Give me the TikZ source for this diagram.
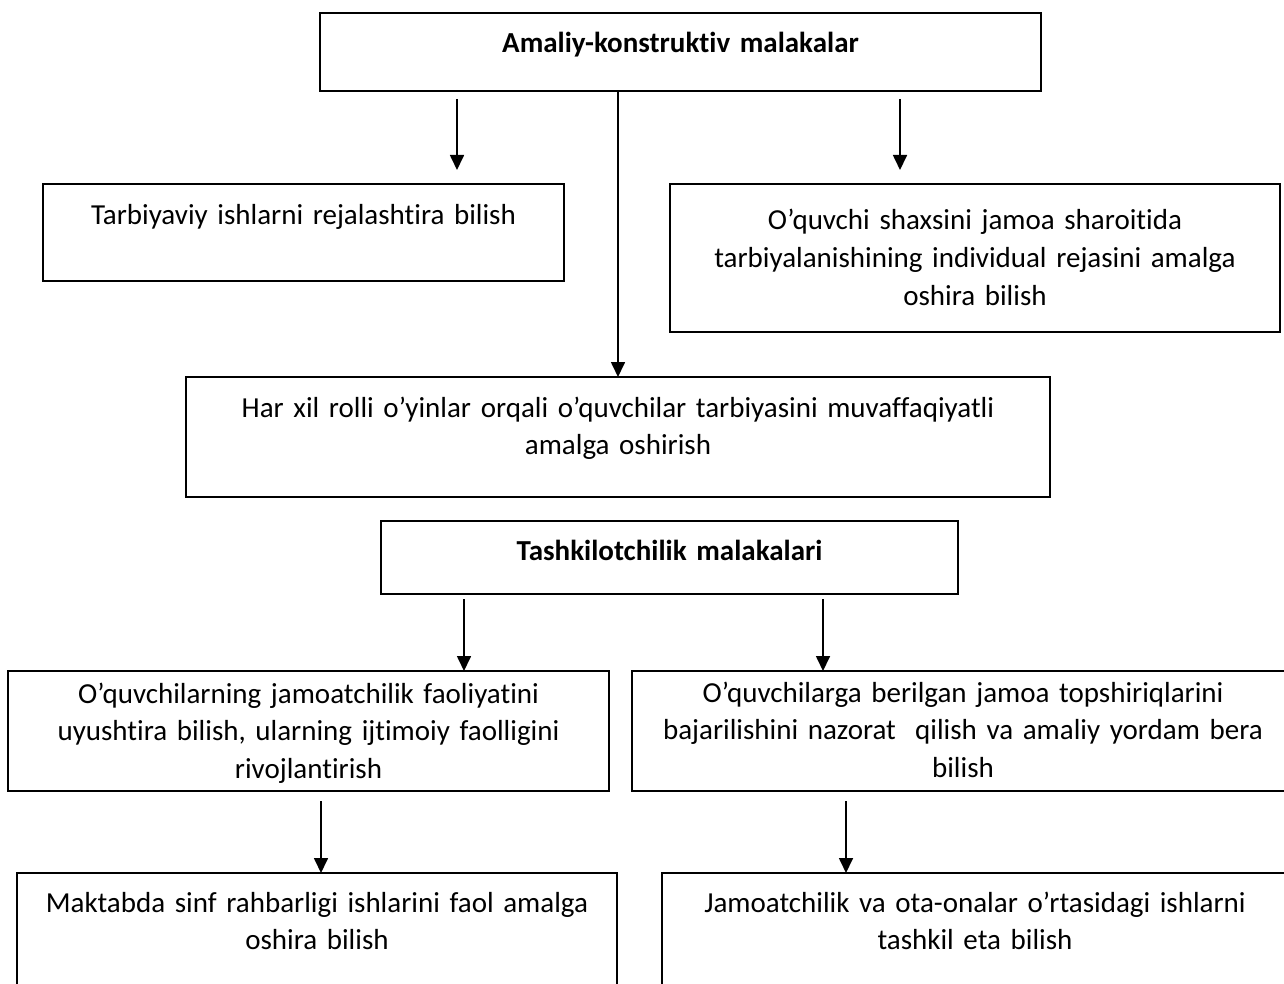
\documentclass[tikz,border=0pt]{standalone}
\usepackage{fontspec}
\setmainfont{Carlito}[Ligatures={NoCommon}]
\usetikzlibrary{arrows.meta}
\begin{document}
\begin{tikzpicture}[x=1pt,y=-1pt,
  box/.style={draw, line width=1.8pt, inner sep=0pt, outer sep=0pt},
  txt/.style={font=\fontsize{29}{37.5}\selectfont, align=center, inner sep=0pt},
  arr/.style={line width=1.7pt, -{Triangle[length=15pt,width=14pt]}}]
\useasboundingbox (0,0) rectangle (1284,984);
\clip (0,0) rectangle (1284,984);
% boxes
\node[box, minimum width=721pt, minimum height=78pt] (top) at (680.5,52) {};
\node[box, minimum width=521pt, minimum height=97pt] (tarb) at (303.5,232.5) {};
\node[box, minimum width=610pt, minimum height=148pt] (shax) at (975,258) {};
\node[box, minimum width=864pt, minimum height=120pt] (har) at (618,437) {};
\node[box, minimum width=577pt, minimum height=73pt] (tash) at (669.5,557.5) {};
\node[box, minimum width=601pt, minimum height=120pt] (ltwo) at (308.5,731) {};
\node[box, minimum width=662pt, minimum height=120pt] (rtwo) at (963,731) {};
\node[box, minimum width=600pt, minimum height=137pt] (lthree) at (317,941.5) {};
\node[box, minimum width=626pt, minimum height=137pt] (rthree) at (975,941.5) {};
% texts
\node[txt, text width=700pt, anchor=base] (ttop) at (680.5,53) {\bfseries Amaliy-konstruktiv malakalar};
\node[txt, text width=510pt, anchor=base] (ttarb) at (303.5,225) {Tarbiyaviy ishlarni rejalashtira bilish};
\node[txt, text width=600pt, anchor=base] (tshax) at (975,230) {O’quvchi shaxsini jamoa sharoitida\\tarbiyalanishining individual rejasini amalga\\oshira bilish};
\node[txt, text width=850pt, anchor=base] (thar) at (618,417) {Har xil rolli o’yinlar orqali o’quvchilar tarbiyasini muvaffaqiyatli\\amalga oshirish};
\node[txt, text width=560pt, anchor=base] (ttash) at (669.5,560) {\bfseries Tashkilotchilik malakalari};
\node[txt, text width=590pt, anchor=base] (tltwo) at (308.5,703) {O’quvchilarning jamoatchilik faoliyatini\\uyushtira bilish, ularning ijtimoiy faolligini\\rivojlantirish};
\node[txt, text width=650pt, anchor=base] (trtwo) at (963,702) {O’quvchilarga berilgan jamoa topshiriqlarini\\bajarilishini nazorat\ \ qilish va amaliy yordam bera\\bilish};
\node[txt, text width=590pt, anchor=base] (tlthree) at (317,912) {Maktabda sinf rahbarligi ishlarini faol amalga\\oshira bilish};
\node[txt, text width=615pt, anchor=base] (trthree) at (975,912) {Jamoatchilik va ota-onalar o’rtasidagi ishlarni\\tashkil eta bilish};
% connectors
\coordinate (aones) at (457,99);
\coordinate (aonee) at (457,170);
\coordinate (atwos) at (900,99);
\coordinate (atwoe) at (900,170);
\coordinate (athrees) at (464,599);
\coordinate (afours) at (823,599);
\coordinate (afives) at (321,801);
\coordinate (asixs) at (846,801);
\draw[arr] (aones) -- (aonee);
\draw[arr] (atwos) -- (atwoe);
\draw[arr] (top.south -| har.north) -- (har.north);
\draw[arr] (athrees) -- (athrees |- ltwo.north);
\draw[arr] (afours) -- (afours |- rtwo.north);
\draw[arr] (afives) -- (afives |- lthree.north);
\draw[arr] (asixs) -- (asixs |- rthree.north);
\end{tikzpicture}
\end{document}
